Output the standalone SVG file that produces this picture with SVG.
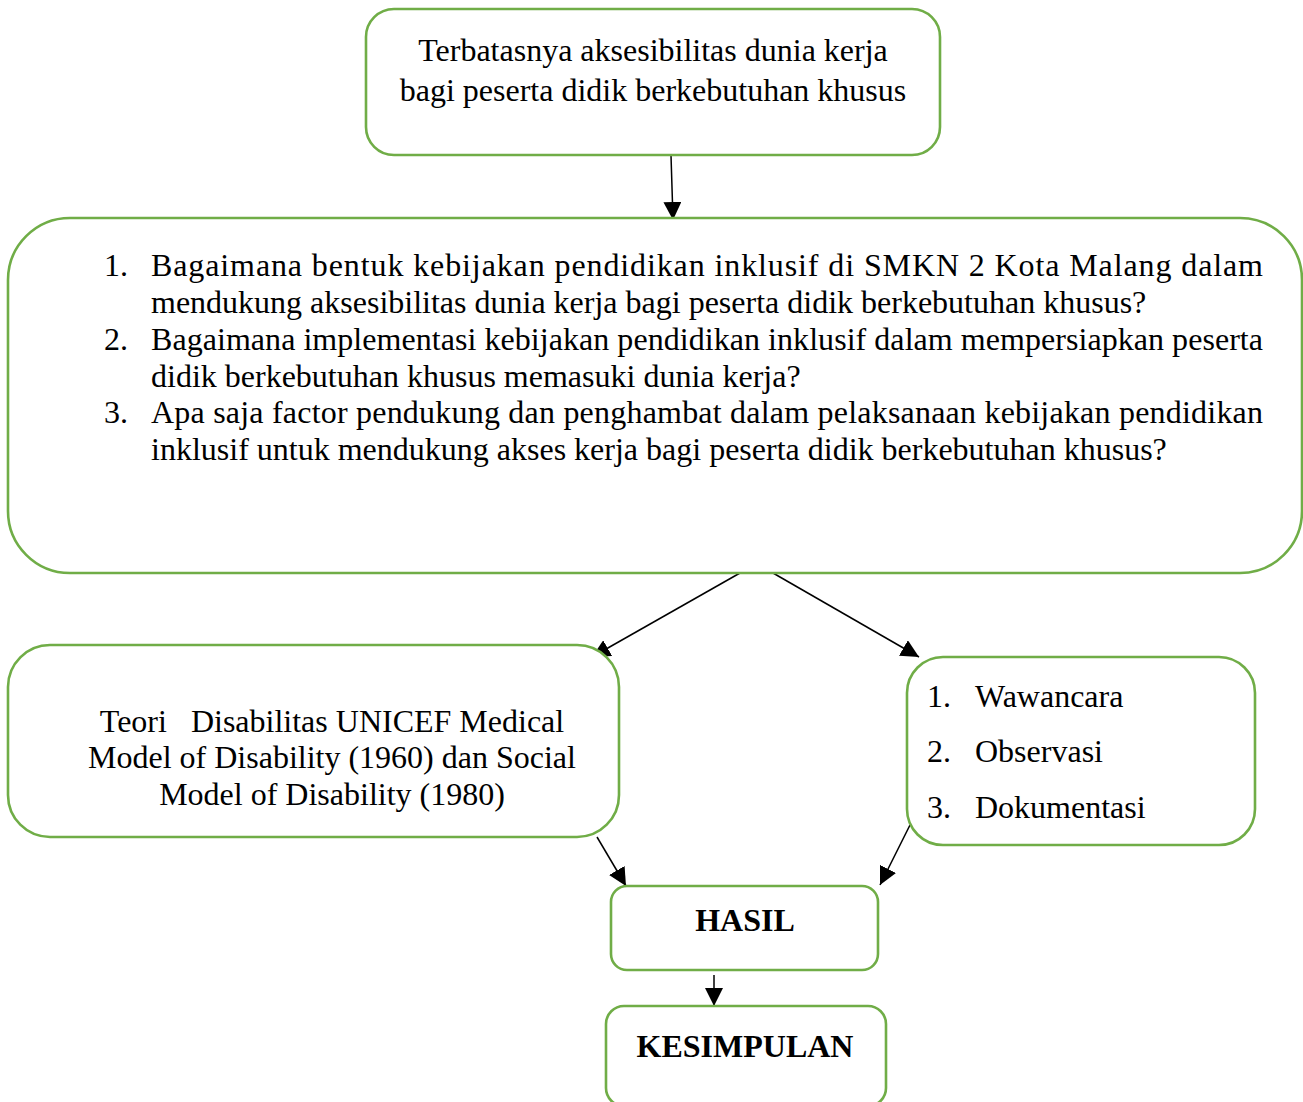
<svg xmlns="http://www.w3.org/2000/svg" width="1303" height="1102" viewBox="0 0 1303 1102">
<defs>
<marker id="arr" markerUnits="userSpaceOnUse" markerWidth="19" markerHeight="18" refX="18" refY="9" orient="auto">
<path d="M0,0 L18,9 L0,18 Z" fill="#000"/>
</marker>
<style>
.box{fill:#fff;stroke:#70AD47;stroke-width:2.6}
.t{font-family:"Liberation Serif","Times New Roman",serif;font-size:32px;fill:#000}
.b{font-weight:bold}
.c{stroke:#000;stroke-width:1.5;fill:none;marker-end:url(#arr)}
</style>
</defs>
<rect width="1303" height="1102" fill="#fff"/>
<g id="connectors">
<line class="c" x1="671" y1="155" x2="673" y2="220"/>
<line class="c" x1="740" y1="573" x2="592" y2="657"/>
<line class="c" x1="773" y1="573" x2="919" y2="657"/>
<line class="c" x1="597" y1="837" x2="626" y2="886"/>
<line class="c" x1="910" y1="825" x2="880" y2="885"/>
<line class="c" x1="714" y1="975" x2="714" y2="1006"/>
</g>
<g id="node-masalah">
<rect class="box" x="366" y="9" width="574" height="146" rx="28"/>
<text class="t" x="653" y="61" text-anchor="middle">Terbatasnya aksesibilitas dunia kerja</text>
<text class="t" x="653" y="101" text-anchor="middle">bagi peserta didik berkebutuhan khusus</text>
</g>
<g id="node-rumusan">
<rect class="box" x="8" y="218" width="1294" height="355" rx="62"/>
<text class="t" x="104" y="276">1.</text>
<text class="t" x="151" y="276" textLength="1112" lengthAdjust="spacing">Bagaimana bentuk kebijakan pendidikan inklusif di SMKN 2 Kota Malang dalam</text>
<text class="t" x="151" y="313">mendukung aksesibilitas dunia kerja bagi peserta didik berkebutuhan khusus?</text>
<text class="t" x="104" y="350">2.</text>
<text class="t" x="151" y="350" textLength="1112" lengthAdjust="spacing">Bagaimana implementasi kebijakan pendidikan inklusif dalam mempersiapkan peserta</text>
<text class="t" x="151" y="387">didik berkebutuhan khusus memasuki dunia kerja?</text>
<text class="t" x="104" y="423">3.</text>
<text class="t" x="151" y="423" textLength="1112" lengthAdjust="spacing">Apa saja factor pendukung dan penghambat dalam pelaksanaan kebijakan pendidikan</text>
<text class="t" x="151" y="460">inklusif untuk mendukung akses kerja bagi peserta didik berkebutuhan khusus?</text>
</g>
<g id="node-teori">
<rect class="box" x="8" y="645" width="611" height="192" rx="42"/>
<text class="t" x="332" y="732" text-anchor="middle" xml:space="preserve">Teori   Disabilitas UNICEF Medical</text>
<text class="t" x="332" y="768" text-anchor="middle">Model of Disability (1960) dan Social</text>
<text class="t" x="332" y="805" text-anchor="middle">Model of Disability (1980)</text>
</g>
<g id="node-metode">
<rect class="box" x="907" y="657" width="348" height="188" rx="36"/>
<text class="t" x="927" y="707">1.</text>
<text class="t" x="975" y="707">Wawancara</text>
<text class="t" x="927" y="762">2.</text>
<text class="t" x="975" y="762">Observasi</text>
<text class="t" x="927" y="818">3.</text>
<text class="t" x="975" y="818">Dokumentasi</text>
</g>
<g id="node-hasil">
<rect class="box" x="611" y="886" width="267" height="84" rx="16"/>
<text class="t b" x="745" y="931" text-anchor="middle">HASIL</text>
</g>
<g id="node-kesimpulan">
<rect class="box" x="606" y="1006" width="280" height="100" rx="18"/>
<text class="t b" x="745" y="1057" text-anchor="middle">KESIMPULAN</text>
</g>
</svg>
